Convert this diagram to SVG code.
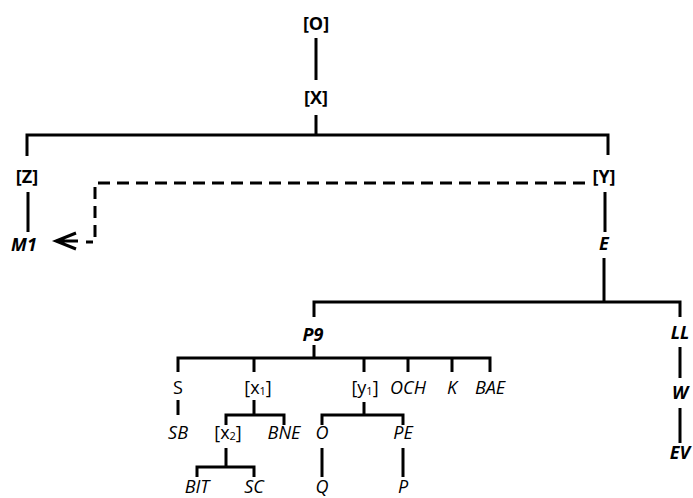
<svg xmlns="http://www.w3.org/2000/svg" width="693" height="498" viewBox="0 0 693 498">
<style>
text{font-family:"Open Sans","Liberation Sans",sans-serif;font-size:18px;text-anchor:middle;fill:#000}
.b{font-weight:bold}
.bi{font-weight:bold;font-style:italic}
.i{font-style:italic}
.sub{font-size:11px}
.ln{stroke:#000;stroke-width:3;fill:none}
.d{stroke:#000;stroke-width:3;fill:none;stroke-dasharray:12 7}
</style>
<rect width="693" height="498" fill="#fff"/>
<g id="connectors">
<path class="ln" d="M316 38V80M316 115V135M27 150V135H608V155M27 150V156M28 192V232M605 192V232M604 258V302M314 317V302H680V317M680 347V378M680 408V443M314 345V358M178 372V358H490V372M254 358V372M364 358V372M408 358V372M452 358V372M178 400V415M254 400V415M226 425V415H284V425M364 402V415M322 425V415H403V425M226 448V467M197 477V467H254V477M322 448V477M403 448V477"/>
<path class="d" d="M585 183H95V242H86"/>
<path class="ln" d="M76 233L56 241L76 249M56 241H78"/>
</g>
<g id="O"><text class="b" x="316" y="30">[O]</text></g>
<g id="X"><text class="b" x="316" y="104">[X]</text></g>
<g id="Z"><text class="b" x="27" y="183">[Z]</text></g>
<g id="Y"><text class="b" x="604" y="183">[Y]</text></g>
<g id="M1"><text class="bi" x="24" y="251">M1</text></g>
<g id="E"><text class="bi" x="604" y="250">E</text></g>
<g id="P9"><text class="bi" x="313" y="341">P9</text></g>
<g id="LL"><text class="bi" x="680" y="339">LL</text></g>
<g id="W"><text class="bi" x="680" y="399">W</text></g>
<g id="EV"><text class="bi" x="680" y="459">EV</text></g>
<g id="S"><text x="178" y="394">S</text></g>
<g id="x1"><text x="258" y="394">[x<tspan class="sub" dy="1">1</tspan><tspan dy="-1">]</tspan></text></g>
<g id="y1"><text x="365" y="394">[y<tspan class="sub" dy="1">1</tspan><tspan dy="-1">]</tspan></text></g>
<g id="OCH"><text class="i" x="408" y="394">OCH</text></g>
<g id="K"><text class="i" x="452" y="394">K</text></g>
<g id="BAE"><text class="i" x="490" y="394">BAE</text></g>
<g id="SB"><text class="i" x="178" y="439">SB</text></g>
<g id="x2"><text x="228" y="439">[x<tspan class="sub" dy="1">2</tspan><tspan dy="-1">]</tspan></text></g>
<g id="BNE"><text class="i" x="284" y="439">BNE</text></g>
<g id="Onode"><text class="i" x="322" y="439">O</text></g>
<g id="PE"><text class="i" x="403" y="439">PE</text></g>
<g id="BIT"><text class="i" x="197" y="493">BIT</text></g>
<g id="SC"><text class="i" x="254" y="493">SC</text></g>
<g id="Q"><text class="i" x="322" y="493">Q</text></g>
<g id="P"><text class="i" x="403" y="493">P</text></g>
</svg>
